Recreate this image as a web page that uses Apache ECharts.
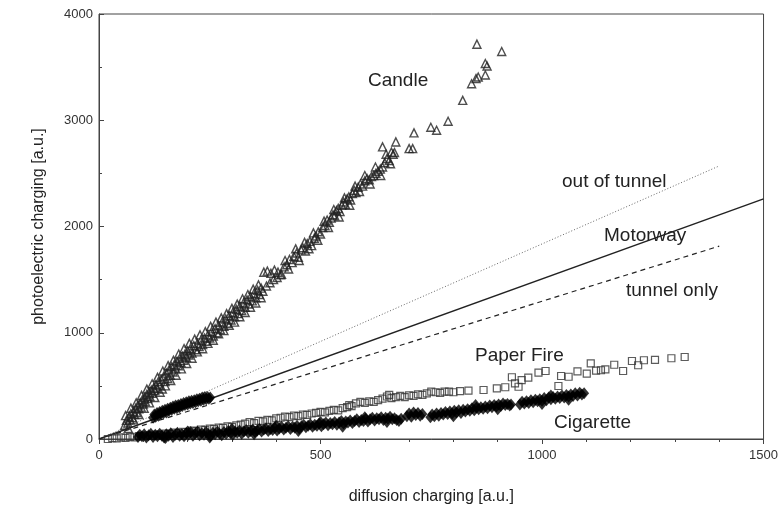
<!DOCTYPE html>
<html>
<head>
<meta charset="utf-8">
<script src="https://cdn.jsdelivr.net/npm/echarts@6/dist/echarts.min.js"></script>
<style>html,body{margin:0;padding:0;background:#fff}#c{width:781px;height:511px}</style>
</head>
<body>
<div id="c"></div>
<script>
var xTicks = [0, 500, 1000, 1500];
var yTicks = [0, 1000, 2000, 3000, 4000];
var xAxisName = 'diffusion charging [a.u.]';
var yAxisName = 'photoelectric charging [a.u.]';

var candle = [[58,130],[62,175],[65,150],[68,210],[70,180],[72,240],[75,200],[78,260],[80,230],[83,290],[85,250],[88,320],[90,285],[93,340],[95,300],[98,370],[100,330],[103,390],[105,350],[108,420],[110,380],[113,440],[115,400],[118,460],[120,430],[123,480],[126,455],[128,510],[131,475],[134,540],[137,500],[140,560],[143,470],[146,590],[149,540],[152,620],[155,570],[158,650],[161,600],[164,680],[167,630],[170,700],[173,660],[176,730],[179,690],[182,760],[185,720],[188,780],[191,740],[194,800],[197,770],[200,830],[203,790],[206,850],[210,810],[214,880],[218,840],[222,900],[226,870],[230,930],[234,890],[238,950],[242,920],[246,980],[250,950],[254,1010],[258,970],[262,1040],[266,1000],[270,1070],[274,1030],[278,1100],[282,1060],[286,1130],[290,1090],[294,1160],[298,1120],[302,1190],[306,1150],[310,1220],[314,1180],[318,1250],[322,1210],[326,1280],[330,1240],[334,1310],[338,1270],[342,1340],[346,1300],[350,1370],[354,1330],[358,1400],[362,1360],[366,1420],[370,1390],[372,1570],[380,1580],[388,1560],[396,1590],[404,1570],[412,1550],[378,1440],[386,1470],[394,1500],[402,1520],[410,1545],[418,1620],[424,1640],[430,1690],[436,1660],[440,1720],[446,1750],[450,1710],[456,1780],[460,1800],[466,1770],[470,1840],[476,1860],[480,1820],[486,1890],[490,1910],[495,1950],[500,1930],[505,1990],[510,2010],[515,2060],[520,2040],[524,2080],[528,2110],[532,2100],[536,2150],[540,2170],[544,2140],[548,2200],[552,2230],[556,2210],[560,2260],[564,2280],[568,2250],[572,2310],[576,2340],[580,2320],[585,2370],[590,2400],[595,2380],[600,2430],[605,2450],[610,2440],[615,2470],[620,2480],[625,2500],[630,2520],[635,2540],[640,2560],[645,2600],[650,2640],[655,2620],[660,2700],[664,2680],[640,2749],[667,2695],[670,2796],[700,2733],[708,2733],[711,2881],[749,2934],[762,2906],[788,2991],[821,3187],[841,3344],[851,3392],[856,3407],[872,3426],[872,3534],[876,3511],[853,3716],[909,3647],
  [60,220],[66,100],[72,290],[78,180],[84,340],[90,230],[96,410],[102,290],[108,470],[114,340],[120,520],[126,390],[132,580],[138,440],[144,640],[150,500],[156,690],[162,550],[168,740],[174,600],[180,800],[186,660],[192,850],[198,710],[204,900],[210,760],[216,940],[222,820],[228,980],[234,850],[240,1010],[246,900],[252,1060],[258,930],[264,1100],[270,990],[276,1140],[282,1020],[288,1180],[294,1070],[300,1230],[306,1100],[312,1270],[318,1150],[324,1320],[330,1190],[336,1360],[342,1240],[348,1410],[354,1280],[360,1450],[366,1330],[420,1680],[428,1600],[444,1790],[452,1680],[464,1850],[474,1790],[484,1940],[494,1870],[508,2050],[518,1990],[530,2160],[542,2090],[554,2270],[566,2200],[578,2380],[588,2330],[600,2480],[612,2400],[624,2560],[636,2480],[648,2680],[658,2590]];

var cigarette = [[88,20],[92,40],[97,25],[102,45],[107,15],[112,35],[117,50],[122,20],[127,40],[132,25],[137,50],[142,30],[147,15],[152,45],[157,30],[162,55],[167,20],[172,40],[177,60],[182,30],[187,45],[192,25],[197,55],[202,40],[207,65],[212,30],[217,50],[222,70],[227,35],[232,55],[237,40],[242,65],[247,45],[252,30],[257,60],[262,45],[267,70],[272,50],[277,35],[282,65],[287,50],[292,75],[297,55],[302,40],[307,70],[312,60],[317,80],[322,50],[327,70],[332,85],[337,60],[342,75],[347,90],[352,65],[357,80],[362,95],[367,70],[372,90],[377,100],[382,75],[387,95],[392,85],[397,105],[402,80],[407,100],[412,115],[417,90],[422,105],[427,120],[432,95],[437,115],[442,105],[447,125],[452,100],[457,120],[462,135],[467,110],[472,125],[477,140],[482,115],[487,135],[492,125],[497,145],[502,120],[507,140],[512,155],[517,130],[522,150],[527,140],[532,160],[537,135],[542,155],[547,170],[552,145],[557,165],[562,155],[567,175],[572,150],[577,170],[582,185],[587,160],[592,180],[597,170],[602,190],[607,165],[612,185],[617,200],[622,175],[627,195],[632,185],[637,205],[642,180],[647,200],[652,190],[657,210],[662,185],[667,195],[672,180],[677,170],[682,190],[695,215],[700,240],[705,210],[710,250],[715,225],[720,245],[725,220],[730,235],[748,205],[752,230],[757,215],[762,240],[767,220],[772,245],[777,230],[782,255],[787,235],[792,260],[797,240],[802,265],[807,250],[812,270],[817,245],[822,275],[827,260],[832,280],[837,265],[842,290],[847,270],[852,295],[857,280],[862,300],[867,285],[872,305],[877,290],[882,315],[887,300],[892,320],[897,305],[902,325],[907,310],[912,335],[917,320],[922,330],[927,315],[930,325],[950,325],[955,350],[960,335],[965,355],[970,340],[975,365],[980,345],[985,370],[990,355],[995,375],[1000,360],[1005,385],[1010,365],[1015,390],[1020,375],[1025,395],[1030,380],[1035,400],[1040,385],[1045,410],[1050,390],[1055,415],[1060,400],[1065,420],[1070,405],[1075,430],[1080,410],[1085,435],[1090,420],[1095,430],
  [150,10],[250,15],[350,45],[450,75],[550,115],[650,160],[800,215],[900,280],[1000,330],[1060,370],[200,70],[300,95],[400,125],[500,160],[600,205],[850,320],[1020,410]];

var motorwayData = [[122,200],[125,230],[128,210],[131,245],[134,220],[137,255],[140,235],[143,265],[146,245],[149,275],[152,250],[155,285],[158,265],[161,295],[164,275],[167,305],[170,285],[173,315],[176,290],[179,320],[182,300],[185,330],[188,310],[191,340],[194,320],[197,345],[200,325],[203,355],[206,335],[209,360],[212,340],[215,365],[218,345],[221,375],[224,355],[227,380],[230,360],[233,390],[236,370],[239,395],[242,375],[245,395],[248,380],[251,390]];

var paperFire = [[20,0],[30,8],[40,5],[50,15],[60,10],[70,20],[80,15],[90,28],[100,25],[110,35],[120,30],[130,42],[140,40],[150,50],[160,48],[170,60],[180,55],[190,68],[200,65],[210,78],[220,75],[230,88],[240,85],[250,98],[260,95],[270,108],[280,105],[290,118],[300,115],[310,128],[320,135],[330,145],[340,160],[350,150],[360,170],[370,165],[380,180],[390,175],[400,195],[410,200],[420,210],[430,205],[440,220],[450,215],[460,230],[470,228],[480,240],[490,245],[500,255],[510,250],[520,265],[530,275],[540,270],[550,290],[560,300],[565,320],[570,310],[580,335],[590,350],[600,340],[610,355],[620,350],[630,365],[640,380],[650,400],[655,415],[660,385],[670,395],[680,405],[690,395],[700,410],[710,405],[720,420],[730,415],[740,430],[750,445],[760,440],[770,435],[780,445],[790,445],[800,440],[815,450],[834,455],[868,461],[898,477],[917,487],[932,581],[939,524],[947,492],[954,555],[969,577],[992,624],[1008,640],[1037,499],[1043,593],[1060,586],[1080,637],[1101,615],[1110,712],[1122,643],[1133,647],[1143,656],[1163,699],[1183,640],[1203,734],[1217,694],[1230,741],[1255,744],[1292,760],[1322,772]];

var outOfTunnelLine = [[0,0],[1400,2570]];
var motorwayLine = [[0,0],[1500,2260]];
var tunnelOnlyLine = [[0,0],[1400,1815]];

var labels = ['Candle', 'out of tunnel', 'Motorway', 'tunnel only', 'Paper Fire', 'Cigarette'];

var chart = echarts.init(document.getElementById('c'), null, {renderer: 'canvas'});
var font = 'Liberation Sans, Arial, sans-serif';
var axisCol = '#444';
function txt(i, left, top) {
  return {type: 'text', left: left, top: top, style: {text: labels[i], fill: '#222', font: '19px ' + font}};
}
chart.setOption({
  animation: false,
  backgroundColor: '#fff',
  grid: {left: 99, right: 16, top: 14, bottom: 72, show: true, borderColor: axisCol, borderWidth: 1},
  xAxis: {
    type: 'value', min: 0, max: 1500, interval: 500,
    name: xAxisName, nameLocation: 'middle', nameGap: 50,
    nameTextStyle: {fontSize: 16, color: '#222', fontFamily: font},
    axisLine: {show: true, lineStyle: {color: axisCol, width: 1}},
    axisTick: {show: true, inside: false, length: 5, lineStyle: {color: axisCol}},
    minorTick: {show: true, splitNumber: 5, length: 3, lineStyle: {color: axisCol}},
    splitLine: {show: false},
    axisLabel: {fontSize: 13, color: '#333', fontFamily: font, margin: 10,
      formatter: function (v) { return xTicks.indexOf(v) >= 0 ? String(v) : ''; }}
  },
  yAxis: {
    type: 'value', min: 0, max: 4000, interval: 1000,
    name: yAxisName, nameLocation: 'middle', nameGap: 52,
    nameTextStyle: {fontSize: 16, color: '#222', fontFamily: font},
    axisLine: {show: true, lineStyle: {color: axisCol, width: 1}},
    axisTick: {show: true, inside: true, length: 5, lineStyle: {color: axisCol}},
    minorTick: {show: true, splitNumber: 2, length: 3, lineStyle: {color: axisCol}},
    splitLine: {show: false},
    axisLabel: {fontSize: 13, color: '#333', fontFamily: font, margin: 6,
      formatter: function (v) { return yTicks.indexOf(v) >= 0 ? String(v) : ''; }}
  },
  series: [
    {type: 'line', data: outOfTunnelLine, symbol: 'none', lineStyle: {color: '#666', width: 1, type: [1, 2]}, z: 1},
    {type: 'line', data: motorwayLine, symbol: 'none', lineStyle: {color: '#222', width: 1.4}, z: 1},
    {type: 'line', data: tunnelOnlyLine, symbol: 'none', lineStyle: {color: '#222', width: 1.2, type: [5, 4]}, z: 1},
    {type: 'scatter', data: paperFire, symbol: 'rect', symbolSize: 7,
      itemStyle: {color: 'rgba(0,0,0,0)', borderColor: '#333', borderWidth: 1.2}, z: 2},
    {type: 'scatter', data: cigarette, symbol: 'diamond', symbolSize: [10, 12],
      itemStyle: {color: '#000'}, z: 3},
    {type: 'scatter', data: motorwayData, symbol: 'diamond', symbolSize: [10, 12],
      itemStyle: {color: '#000'}, z: 3},
    {type: 'scatter', data: candle, symbol: 'triangle', symbolSize: 8,
      itemStyle: {color: 'rgba(0,0,0,0)', borderColor: '#222', borderWidth: 1.4}, z: 4}
  ],
  graphic: [
    txt(0, 368, 71), txt(1, 562, 172), txt(2, 604, 226), txt(3, 626, 281), txt(4, 475, 346), txt(5, 554, 413)
  ]
});
</script>
</body>
</html>
